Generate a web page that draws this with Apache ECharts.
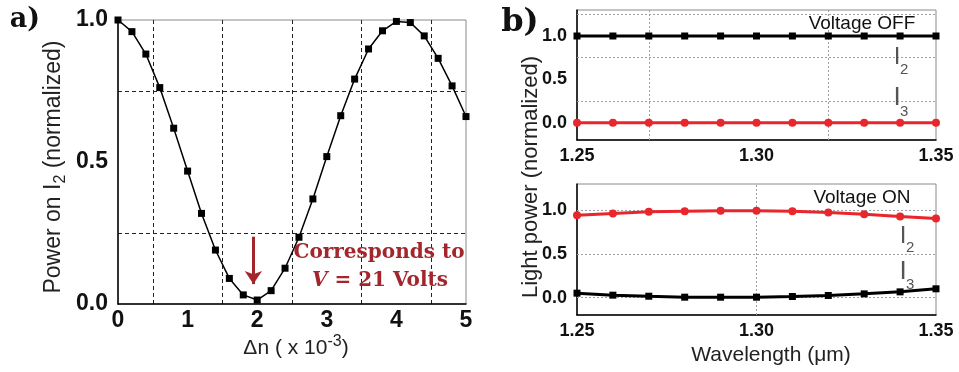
<!DOCTYPE html>
<html><head><meta charset="utf-8">
<script src="https://cdn.jsdelivr.net/npm/echarts@6/dist/echarts.min.js"></script>
<style>html,body{margin:0;padding:0;background:#fff}#c{width:959px;height:372px}</style>
</head><body><div id="c"></div>
<script>
// ---------- Panel a data ----------
const dnX = [0, 0.2, 0.4, 0.6, 0.8, 1.0, 1.2, 1.4, 1.6, 1.8, 2.0, 2.2, 2.4, 2.6, 2.8, 3.0, 3.2, 3.4, 3.6, 3.8, 4.0, 4.2, 4.4, 4.6, 4.8, 5.0];
const powerI2 = [1.0, 0.959, 0.880, 0.762, 0.619, 0.468, 0.319, 0.190, 0.090, 0.032, 0.014, 0.047, 0.126, 0.235, 0.370, 0.519, 0.663, 0.792, 0.898, 0.962, 0.995, 0.991, 0.944, 0.865, 0.768, 0.660];
const arrowX = 1.945, arrowTop = 0.237, arrowTip = 0.07;

// ---------- Panel b data ----------
const wavelength = [1.25, 1.26, 1.27, 1.28, 1.29, 1.30, 1.31, 1.32, 1.33, 1.34, 1.35];
const offI2 = [1, 1, 1, 1, 1, 1, 1, 1, 1, 1, 1];
const offI3 = [0, 0, 0, 0, 0, 0, 0, 0, 0, 0, 0];
const onI2 = [0.943, 0.962, 0.981, 0.989, 0.993, 0.993, 0.989, 0.973, 0.954, 0.927, 0.904];
const onI3 = [0.050, 0.027, 0.015, 0.004, 0.004, 0.004, 0.012, 0.023, 0.042, 0.065, 0.100];
const bYTicks = [0, 0.5, 1.0];
const topGridY = [0.25, 0.75, 1.25];
const topGridX = [1.275, 1.325];
const botGridY = [0, 0.5, 1.0];
const botGridX = [1.30];

const RED = '#e8262b';
const DARKRED = '#a3262c';
const SANS = 'Liberation Sans, Arial, sans-serif';
const zip = (xs, ys) => xs.map((x, i) => [x, ys[i]]);

const chart = echarts.init(document.getElementById('c'), null, {renderer: 'canvas'});

const axisLineBlack = {show: true, onZero: false, lineStyle: {color: '#000', width: 1.5}};
const gridBorder = {show: true, borderColor: '#8a8a8a', borderWidth: 1, backgroundColor: 'transparent'};

function bXAxis(gi) {
  return {
    gridIndex: gi, type: 'value', min: 1.25, max: 1.35, interval: 0.05,
    axisLine: axisLineBlack, axisTick: {show: false},
    axisLabel: {fontSize: 18, fontWeight: 'bold', color: '#111', fontFamily: SANS, margin: 7,
      formatter: v => v.toFixed(2)},
    splitLine: {show: false}
  };
}
function bYAxis(gi) {
  return {
    gridIndex: gi, type: 'value', min: -0.2, max: 1.3,
    axisLine: axisLineBlack, axisTick: {show: false},
    axisLabel: {customValues: bYTicks, fontSize: 18, fontWeight: 'bold', color: '#111', fontFamily: SANS, margin: 10,
      formatter: v => Number(v).toFixed(1)},
    splitLine: {show: false}
  };
}
function gridSeries(xi, ys, xs) {
  return {
    type: 'line', xAxisIndex: xi, yAxisIndex: xi, data: [], z: 1, silent: true,
    markLine: {
      silent: true, z: 1, symbol: ['none', 'none'], label: {show: false}, animation: false,
      lineStyle: {color: '#a0a0a0', type: [2, 2], width: 1},
      emphasis: {disabled: true},
      data: ys.map(v => ({yAxis: v})).concat(xs.map(v => ({xAxis: v})))
    }
  };
}

const option = {
  animation: false,
  backgroundColor: '#fff',
  grid: [
    Object.assign({left: 118, top: 20, width: 348, height: 284}, gridBorder),
    Object.assign({left: 577, top: 10, width: 359, height: 130}, gridBorder),
    Object.assign({left: 577, top: 184, width: 359, height: 131}, gridBorder)
  ],
  xAxis: [
    {
      gridIndex: 0, type: 'value', min: 0, max: 5, interval: 1,
      axisLine: axisLineBlack, axisTick: {show: false},
      axisLabel: {fontSize: 23, fontWeight: 'bold', color: '#111', fontFamily: SANS, margin: 5},
      splitLine: {show: false},
      minorTick: {show: false, splitNumber: 2},
      minorSplitLine: {show: true, lineStyle: {color: '#222', type: [4, 3], width: 1}}
    },
    bXAxis(1), bXAxis(2)
  ],
  yAxis: [
    {
      gridIndex: 0, type: 'value', min: 0, max: 1, interval: 0.5,
      axisLine: axisLineBlack, axisTick: {show: false},
      axisLabel: {fontSize: 23, fontWeight: 'bold', color: '#111', fontFamily: SANS, margin: 10,
        formatter: v => v.toFixed(1)},
      splitLine: {show: false},
      minorTick: {show: false, splitNumber: 2},
      minorSplitLine: {show: true, lineStyle: {color: '#222', type: [4, 3], width: 1}}
    },
    bYAxis(1), bYAxis(2)
  ],
  series: [
    {
      type: 'line', xAxisIndex: 0, yAxisIndex: 0, data: zip(dnX, powerI2), z: 3,
      symbol: 'rect', symbolSize: 7, lineStyle: {color: '#000', width: 1.5}, itemStyle: {color: '#000'},
      markLine: {
        silent: true, z: 6, symbol: ['none', 'arrow'], symbolSize: 13, label: {show: false},
        lineStyle: {color: DARKRED, type: 'solid', width: 3}, itemStyle: {color: DARKRED},
        emphasis: {disabled: true},
        data: [[{coord: [arrowX, arrowTop]}, {coord: [arrowX, arrowTip]}]]
      }
    },
    gridSeries(1, topGridY, topGridX),
    {
      type: 'line', xAxisIndex: 1, yAxisIndex: 1, data: zip(wavelength, offI2), z: 3,
      symbol: 'rect', symbolSize: 7, lineStyle: {color: '#000', width: 3}, itemStyle: {color: '#000'}
    },
    {
      type: 'line', xAxisIndex: 1, yAxisIndex: 1, data: zip(wavelength, offI3), z: 3,
      symbol: 'circle', symbolSize: 8, lineStyle: {color: RED, width: 3}, itemStyle: {color: RED}
    },
    gridSeries(2, botGridY, botGridX),
    {
      type: 'line', xAxisIndex: 2, yAxisIndex: 2, data: zip(wavelength, onI2), z: 3,
      symbol: 'circle', symbolSize: 8, lineStyle: {color: RED, width: 3}, itemStyle: {color: RED}
    },
    {
      type: 'line', xAxisIndex: 2, yAxisIndex: 2, data: zip(wavelength, onI3), z: 3,
      symbol: 'rect', symbolSize: 7, lineStyle: {color: '#000', width: 3}, itemStyle: {color: '#000'}
    }
  ],
  graphic: [
    {type: 'text', x: 25, y: 20, z: 10, style: {text: 'a)', font: 'bold 27px "DejaVu Serif", serif', fill: '#111', align: 'center', verticalAlign: 'middle'}},
    {type: 'text', x: 520, y: 23, z: 10, style: {text: 'b)', font: 'bold 32px "DejaVu Serif", serif', fill: '#111', align: 'center', verticalAlign: 'middle'}},
    {type: 'text', x: 54, y: 167, rotation: Math.PI / 2, z: 10, style: {
      text: '{a|Power on I}{s|2}{a| (normalized)}', align: 'center', verticalAlign: 'middle',
      rich: {a: {fontSize: 23, fontFamily: SANS, fill: '#222', lineHeight: 30},
             s: {fontSize: 16, fontFamily: SANS, fill: '#222', lineHeight: 16, verticalAlign: 'bottom'}}}},
    {type: 'text', x: 296, y: 348, z: 10, style: {
      text: '{a|Δn ( x 10}{p|-3}{a|)}', align: 'center', verticalAlign: 'middle',
      rich: {a: {fontSize: 21, fontFamily: SANS, fill: '#222', lineHeight: 28},
             p: {fontSize: 16, fontFamily: SANS, fill: '#222', lineHeight: 16, verticalAlign: 'top'}}}},
    {type: 'text', x: 379, y: 253, z: 10, style: {text: 'Corresponds to', font: 'bold 20px "DejaVu Serif", serif', fill: DARKRED, align: 'center', verticalAlign: 'middle'}},
    {type: 'text', x: 380, y: 281, z: 10, style: {
      text: '{i|V}{n| = 21 Volts}', align: 'center', verticalAlign: 'middle', fill: DARKRED,
      rich: {i: {fontSize: 20, fontFamily: 'DejaVu Serif', fontWeight: 'bold', fontStyle: 'italic', fill: DARKRED},
             n: {fontSize: 20, fontFamily: 'DejaVu Serif', fontWeight: 'bold', fill: DARKRED}}}},
    {type: 'text', x: 531, y: 177, rotation: Math.PI / 2, z: 10, style: {text: 'Light power (normalized)', font: '22px ' + SANS, fill: '#222', align: 'center', verticalAlign: 'middle'}},
    {type: 'text', x: 771, y: 355, z: 10, style: {text: 'Wavelength (μm)', font: '21px ' + SANS, fill: '#222', align: 'center', verticalAlign: 'middle'}},
    {type: 'text', x: 862, y: 24, z: 10, style: {text: 'Voltage OFF', font: '19px ' + SANS, fill: '#111', align: 'center', verticalAlign: 'middle'}},
    {type: 'text', x: 862, y: 198, z: 10, style: {text: 'Voltage ON', font: '19px ' + SANS, fill: '#111', align: 'center', verticalAlign: 'middle'}},
    {type: 'text', x: 897, y: 57, z: 10, style: {text: 'I', font: '24px ' + SANS, fill: '#555', align: 'center', verticalAlign: 'middle'}},
    {type: 'text', x: 900, y: 70, z: 10, style: {text: '2', font: '15px ' + SANS, fill: '#555', align: 'left', verticalAlign: 'middle'}},
    {type: 'text', x: 897, y: 98, z: 10, style: {text: 'I', font: '26px ' + SANS, fill: '#555', align: 'center', verticalAlign: 'middle'}},
    {type: 'text', x: 900, y: 112, z: 10, style: {text: '3', font: '15px ' + SANS, fill: '#555', align: 'left', verticalAlign: 'middle'}},
    {type: 'text', x: 903, y: 236, z: 10, style: {text: 'I', font: '24px ' + SANS, fill: '#555', align: 'center', verticalAlign: 'middle'}},
    {type: 'text', x: 906, y: 248, z: 10, style: {text: '2', font: '15px ' + SANS, fill: '#555', align: 'left', verticalAlign: 'middle'}},
    {type: 'text', x: 903, y: 272, z: 10, style: {text: 'I', font: '26px ' + SANS, fill: '#555', align: 'center', verticalAlign: 'middle'}},
    {type: 'text', x: 906, y: 285, z: 10, style: {text: '3', font: '15px ' + SANS, fill: '#555', align: 'left', verticalAlign: 'middle'}}
  ]
};
chart.setOption(option);
</script>
</body></html>
